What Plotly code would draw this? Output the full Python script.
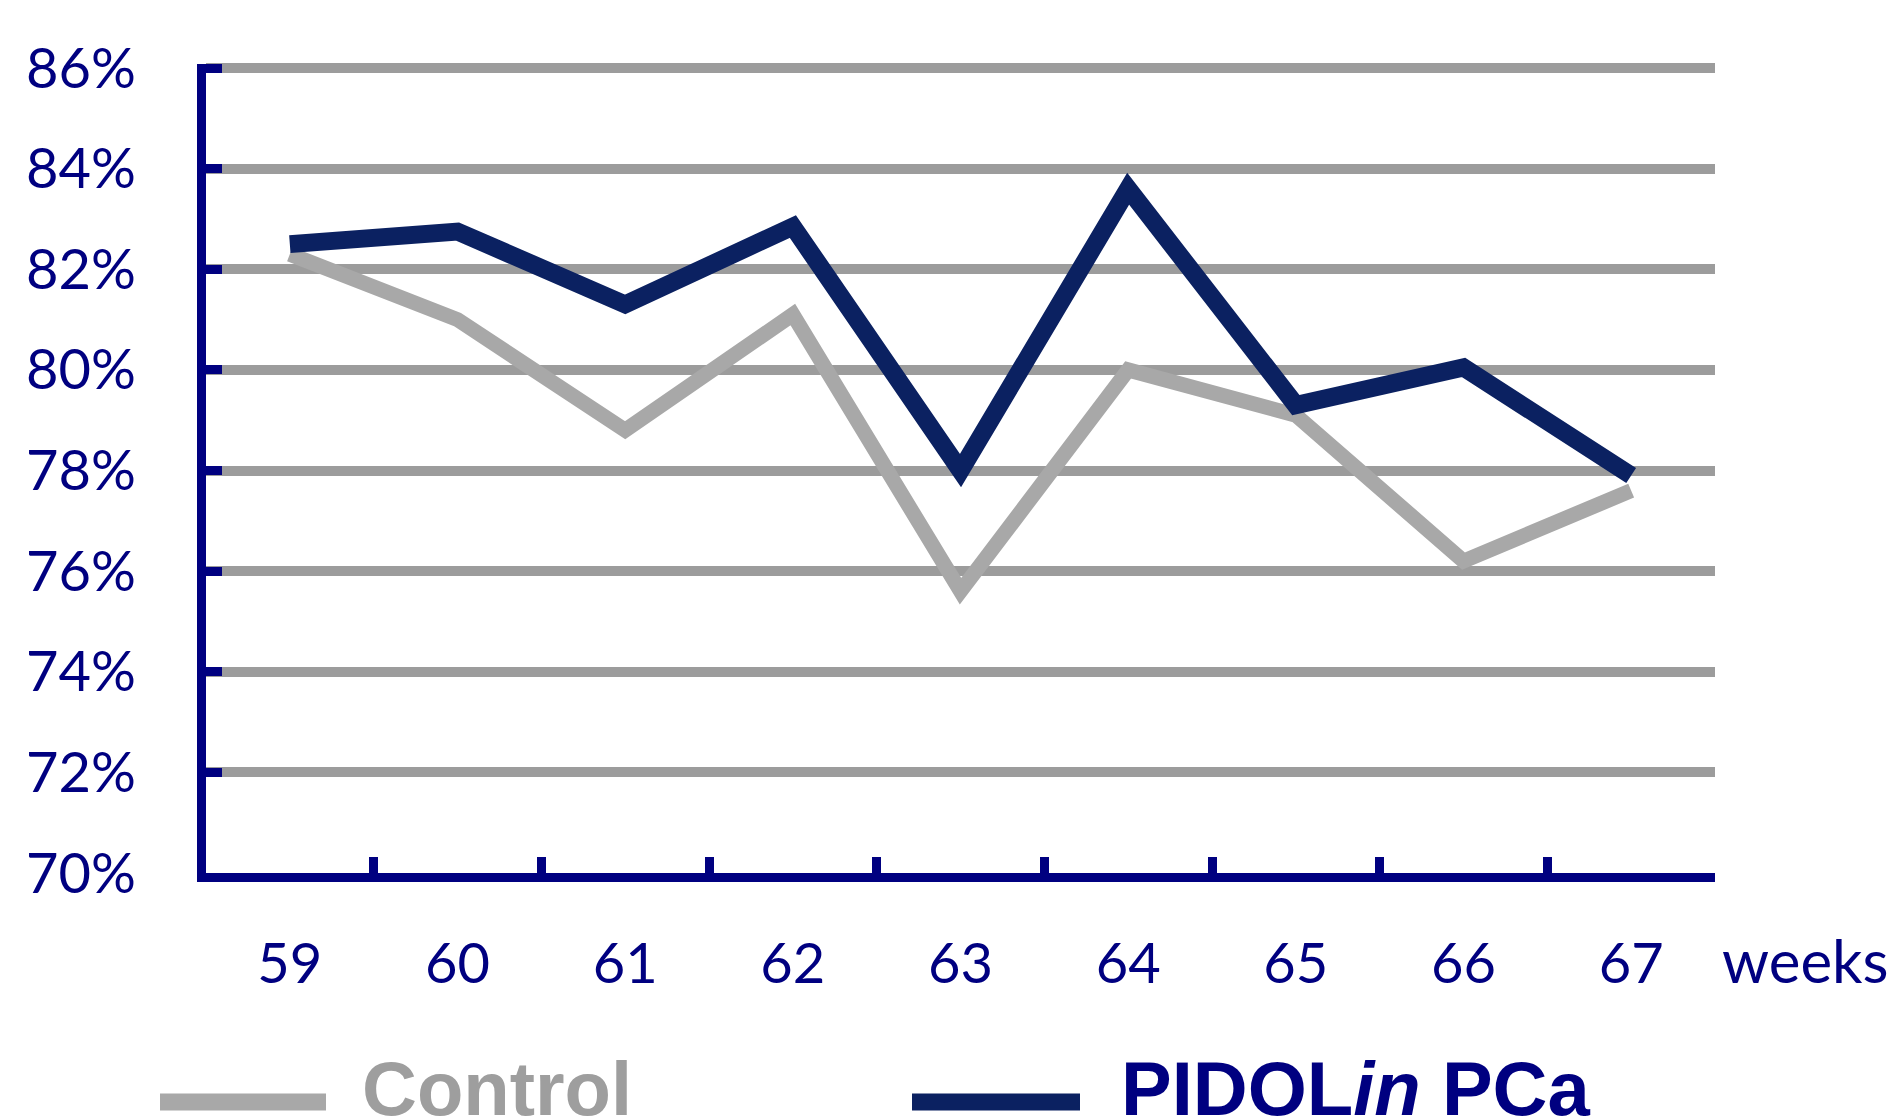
import plotly.graph_objects as go

weeks = ["59", "60", "61", "62", "63", "64", "65", "66", "67"]
control = [82.3, 81.0, 78.8, 81.1, 75.6, 80.0, 79.1, 76.2, 77.6]
pidolin = [82.5, 82.75, 81.3, 82.85, 78.0, 83.6, 79.3, 80.05, 77.9]
y_ticks = [70, 72, 74, 76, 78, 80, 82, 84, 86]
y_labels = [f"{v}%" for v in y_ticks]

W, H = 1900, 1118
L, R, T, B = 198, 1707, 56, 865
Y_TOP = 86.08
NAVY = "#000080"
DARK = "#0b2161"
GRAY_LINE = "#a8a8a8"
GRID = "#9c9c9c"


def px(xp):
    return (xp - L) / (R - L)


def py(yp):
    return (B - yp) / (B - T)


fig = go.Figure()
fig.add_trace(go.Scatter(x=weeks, y=control, mode="lines", name="Control",
                         line=dict(color=GRAY_LINE, width=15), showlegend=False))
fig.add_trace(go.Scatter(x=weeks, y=pidolin, mode="lines", name="PIDOLin PCa",
                         line=dict(color=DARK, width=18), showlegend=False))

fig.update_layout(
    width=W, height=H,
    margin=dict(l=L, r=W - R, t=T, b=H - B),
    paper_bgcolor="white", plot_bgcolor="white",
    font=dict(family="Lato", size=56, color=NAVY),
    xaxis=dict(type="category", range=[-0.5, 8.5], showgrid=False,
               showline=True, linecolor=NAVY, linewidth=9,
               ticks="inside", tickson="boundaries", ticklen=16, tickwidth=9,
               tickcolor=NAVY, ticklabelstandoff=34,
               tickfont=dict(family="Lato", size=56, color=NAVY)),
    yaxis=dict(range=[70, Y_TOP], tickvals=y_ticks, ticktext=y_labels,
               showgrid=True, gridcolor=GRID, gridwidth=10, zeroline=False,
               showline=True, linecolor=NAVY, linewidth=9,
               ticks="inside", ticklen=16, tickwidth=9, tickcolor=NAVY,
               ticklabelstandoff=50,
               tickfont=dict(family="Lato", size=56, color=NAVY)),
)

fig.add_annotation(text="weeks", xref="paper", yref="paper",
                   x=px(1712), y=py(952), xanchor="left", yanchor="middle",
                   showarrow=False,
                   font=dict(family="Lato", size=60, color=NAVY))

# legend (manual)
fig.add_shape(type="line", xref="paper", yref="paper",
              x0=px(152), x1=px(318), y0=py(1094), y1=py(1094),
              line=dict(color=GRAY_LINE, width=17))
fig.add_annotation(text="<b>Control</b>", xref="paper", yref="paper",
                   x=px(352), y=py(1080), xanchor="left", yanchor="middle",
                   showarrow=False,
                   font=dict(family="Liberation Sans", size=76, color="#9e9e9e"))
fig.add_shape(type="line", xref="paper", yref="paper",
              x0=px(904), x1=px(1072), y0=py(1094), y1=py(1094),
              line=dict(color=DARK, width=17))
fig.add_annotation(text="<b>PIDOL<i>in</i> PCa</b>", xref="paper", yref="paper",
                   x=px(1111), y=py(1080), xanchor="left", yanchor="middle",
                   showarrow=False,
                   font=dict(family="Liberation Sans", size=76, color=NAVY))

fig.write_html("out.html")
